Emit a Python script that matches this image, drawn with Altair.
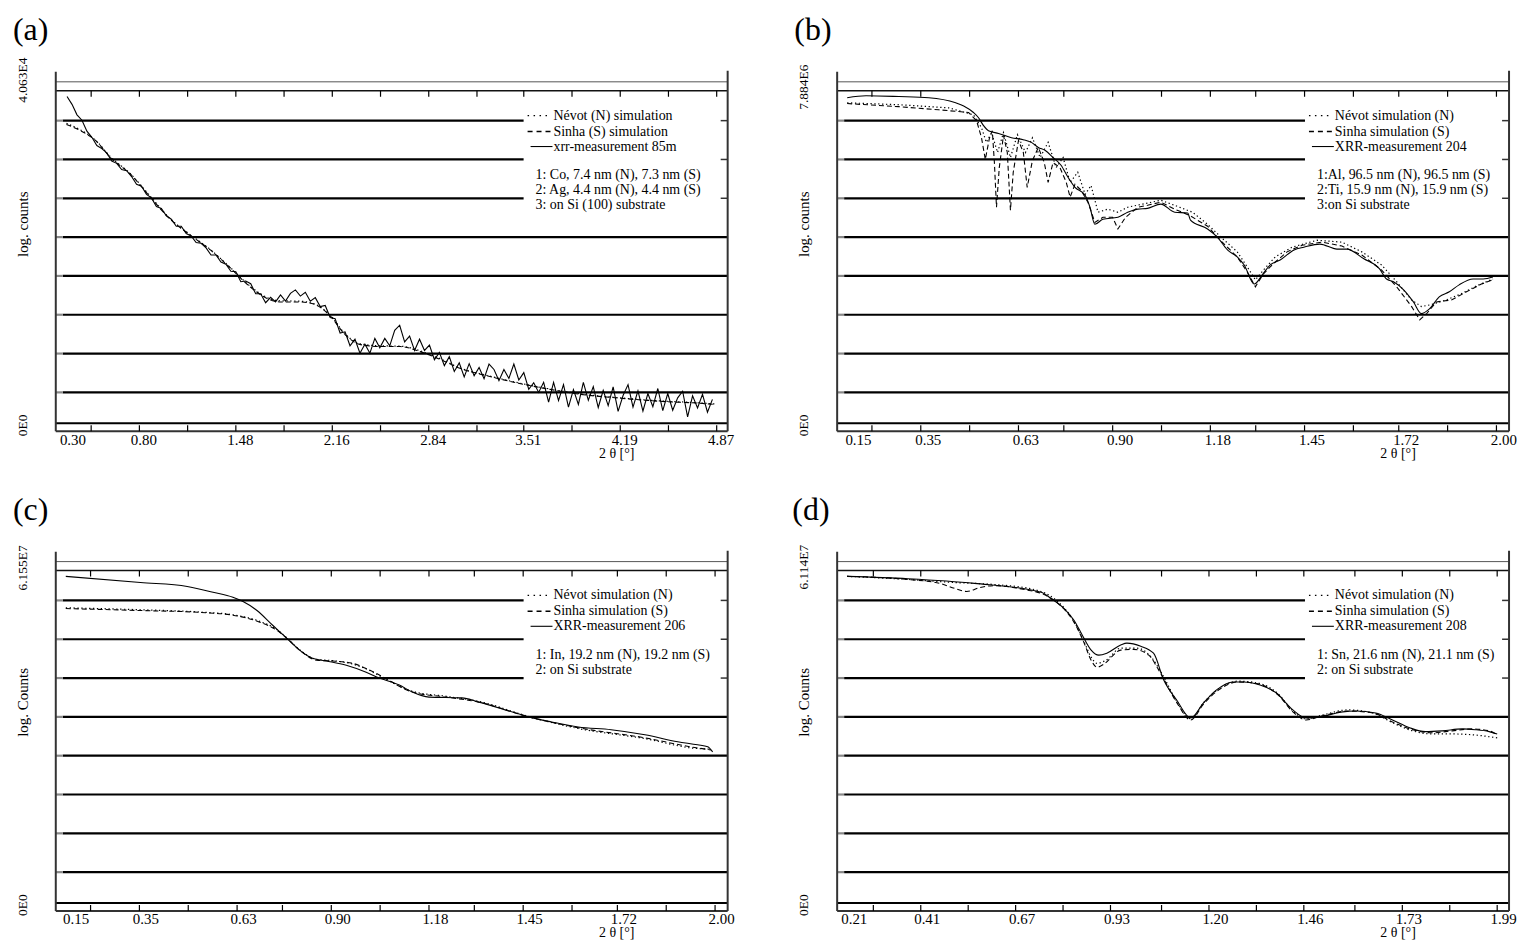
import altair as alt
import pandas as pd

FONT = "Liberation Serif"
PH = 361            # plot height (px)
UNIT = 39.0         # px per grid division
YMAX = PH / UNIT

# ---------------- panel (a) ----------------
a_labels = [0.30, 0.80, 1.48, 2.16, 2.84, 3.51, 4.19, 4.87]
a_ticks = [0.46, 0.80, 1.14, 1.48, 1.82, 2.16, 2.50, 2.84, 3.18, 3.51, 3.85, 4.19, 4.53, 4.87]
a_meas_x = [
    0.290, 0.325, 0.360, 0.395, 0.430, 0.465, 0.500, 0.535, 0.570, 0.605,
    0.640, 0.675, 0.710, 0.745, 0.780, 0.815, 0.850, 0.885, 0.920, 0.955,
    0.990, 1.025, 1.060, 1.095, 1.130, 1.165, 1.200, 1.235, 1.270, 1.305,
    1.340, 1.375, 1.410, 1.445, 1.480, 1.515, 1.550, 1.585, 1.620, 1.655,
    1.690, 1.725, 1.760, 1.795, 1.830, 1.865, 1.900, 1.935, 1.970, 2.005,
    2.040, 2.075, 2.110, 2.145, 2.180, 2.215, 2.250, 2.285, 2.320, 2.355,
    2.390, 2.425, 2.460, 2.495, 2.530, 2.565, 2.600, 2.635, 2.670, 2.705,
    2.740, 2.775, 2.810, 2.845, 2.880, 2.915, 2.950, 2.985, 3.020, 3.055,
    3.090, 3.125, 3.160, 3.195, 3.230, 3.265, 3.300, 3.335, 3.370, 3.405,
    3.440, 3.475, 3.510, 3.545, 3.580, 3.615, 3.650, 3.685, 3.720, 3.755,
    3.790, 3.825, 3.860, 3.895, 3.930, 3.965, 4.000, 4.035, 4.070, 4.105,
    4.140, 4.175, 4.210, 4.245, 4.280, 4.315, 4.350, 4.385, 4.420, 4.455,
    4.490, 4.525, 4.560, 4.595, 4.630, 4.665, 4.700, 4.735, 4.770, 4.805,
    4.840]
a_meas_y = [
    8.62, 8.42, 8.15, 8.01, 7.73, 7.57, 7.36, 7.28, 7.17, 6.96,
    6.90, 6.74, 6.71, 6.56, 6.36, 6.31, 6.10, 6.01, 5.79, 5.74,
    5.55, 5.46, 5.28, 5.28, 5.09, 5.03, 4.86, 4.84, 4.72, 4.54,
    4.54, 4.36, 4.30, 4.12, 4.11, 3.85, 3.87, 3.80, 3.54, 3.54,
    3.31, 3.45, 3.33, 3.51, 3.35, 3.55, 3.64, 3.48, 3.58, 3.35,
    3.44, 3.21, 3.24, 2.93, 2.90, 2.53, 2.56, 2.20, 2.37, 2.01,
    2.24, 2.01, 2.39, 2.15, 2.39, 2.20, 2.60, 2.73, 2.30, 2.45,
    2.08, 2.37, 2.08, 2.22, 1.84, 2.03, 1.69, 1.92, 1.54, 1.76,
    1.40, 1.74, 1.43, 1.64, 1.35, 1.73, 1.59, 1.30, 1.59, 1.36,
    1.73, 1.32, 1.51, 1.08, 1.25, 1.00, 1.26, 0.75, 1.26, 0.79,
    1.20, 0.62, 1.07, 0.69, 1.26, 0.80, 1.15, 0.61, 1.05, 0.66,
    1.14, 0.51, 0.92, 1.20, 0.62, 1.04, 0.52, 0.97, 0.63, 1.10,
    0.53, 0.97, 0.54, 0.86, 1.03, 0.37, 0.91, 0.60, 0.95, 0.49,
    0.82]
a_sim_x = [0.286, 0.385, 0.49, 0.596, 0.737, 0.877, 1.018, 1.159, 1.30, 1.44, 1.58, 1.69,
           1.79, 1.93, 2.04, 2.15, 2.25, 2.36, 2.50, 2.64, 2.78, 2.92, 3.06, 3.27, 3.48,
           3.69, 3.91, 4.19, 4.47, 4.75, 4.86]
a_sinha_y = [7.90, 7.74, 7.49, 7.05, 6.62, 6.03, 5.46, 5.05, 4.67, 4.21, 3.72, 3.44, 3.33,
             3.33, 3.26, 2.95, 2.49, 2.23, 2.18, 2.18, 2.05, 1.85, 1.62, 1.41, 1.23, 1.08,
             0.95, 0.85, 0.77, 0.72, 0.69]
a_nevot_y = [7.93, 7.76, 7.50, 7.07, 6.63, 6.05, 5.47, 5.06, 4.68, 4.22, 3.74, 3.46, 3.36,
             3.35, 3.27, 2.97, 2.51, 2.25, 2.20, 2.19, 2.07, 1.87, 1.63, 1.42, 1.24, 1.09,
             0.96, 0.86, 0.78, 0.73, 0.70]

# ---------------- panel (b) ----------------
b_labels = [0.15, 0.35, 0.63, 0.90, 1.18, 1.45, 1.72, 2.00]
b_ticks = [0.21, 0.35, 0.49, 0.63, 0.76, 0.90, 1.04, 1.18, 1.31, 1.45, 1.59, 1.72, 1.86, 2.00]
b_meas_x = [0.139, 0.193, 0.287, 0.373, 0.45, 0.473, 0.501, 0.515, 0.53, 0.544, 0.573, 0.61,
            0.644, 0.667, 0.687, 0.707, 0.729, 0.752, 0.772, 0.792, 0.821, 0.835, 0.849,
            0.872, 0.915, 0.943, 0.972, 1.0, 1.038, 1.078, 1.115, 1.123, 1.172, 1.20, 1.229,
            1.257, 1.277, 1.306, 1.329, 1.351, 1.38, 1.42, 1.448, 1.494, 1.543, 1.571, 1.62,
            1.665, 1.685, 1.705, 1.734, 1.762, 1.785, 1.808, 1.836, 1.865, 1.893, 1.933,
            1.962, 1.99]
b_meas_y = [8.59, 8.64, 8.62, 8.59, 8.46, 8.38, 8.21, 8.08, 7.87, 7.74, 7.67, 7.56, 7.51,
            7.44, 7.31, 7.23, 7.05, 6.85, 6.54, 6.28, 6.08, 5.77, 5.33, 5.46, 5.51, 5.64,
            5.72, 5.74, 5.85, 5.64, 5.62, 5.44, 5.21, 5.0, 4.67, 4.49, 4.28, 3.79, 4.03, 4.28,
            4.41, 4.67, 4.74, 4.82, 4.69, 4.69, 4.44, 4.18, 3.92, 3.85, 3.64, 3.33, 3.03,
            3.15, 3.46, 3.59, 3.77, 3.92, 3.92, 3.97]
b_sinha_x = [0.139, 0.287, 0.401, 0.487, 0.51, 0.524, 0.535, 0.547, 0.555, 0.561, 0.567,
             0.575, 0.587, 0.598, 0.607, 0.615, 0.63, 0.644, 0.655, 0.67, 0.687, 0.704,
             0.715, 0.729, 0.749, 0.767, 0.778, 0.792, 0.809, 0.829, 0.849, 0.872, 0.9,
             0.915, 0.937, 0.972, 1.0, 1.038, 1.078, 1.12, 1.172, 1.214, 1.257, 1.286,
             1.309, 1.332, 1.36, 1.40, 1.443, 1.5, 1.557, 1.614, 1.671, 1.714, 1.757, 1.78,
             1.8, 1.828, 1.871, 1.914, 1.957, 1.99]
b_sinha_y = [8.44, 8.36, 8.28, 8.21, 8.0, 7.56, 7.0, 7.56, 7.74, 6.92, 5.77, 6.79, 7.62,
             7.18, 5.69, 6.67, 7.49, 7.18, 6.28, 6.97, 7.31, 6.92, 6.41, 6.92, 6.79, 6.41,
             6.03, 6.36, 6.21, 5.90, 5.38, 5.51, 5.51, 5.21, 5.51, 5.77, 5.82, 5.90, 5.72,
             5.56, 5.28, 4.87, 4.49, 4.10, 3.72, 4.05, 4.31, 4.62, 4.79, 4.87, 4.77, 4.54,
             4.15, 3.72, 3.21, 2.87, 3.03, 3.33, 3.38, 3.59, 3.79, 3.90]
b_nevot_x = [0.139, 0.287, 0.43, 0.501, 0.524, 0.538, 0.553, 0.57, 0.587, 0.607, 0.627,
             0.65, 0.67, 0.692, 0.715, 0.738, 0.758, 0.778, 0.8, 0.821, 0.838, 0.858, 0.886,
             0.915, 0.943, 0.986, 1.038, 1.086, 1.129, 1.172, 1.214, 1.257, 1.286, 1.309,
             1.332, 1.366, 1.414, 1.486, 1.557, 1.614, 1.671, 1.714, 1.757, 1.785, 1.813,
             1.856, 1.899, 1.942, 1.99]
b_nevot_y = [8.46, 8.41, 8.33, 8.15, 7.82, 7.44, 7.69, 7.18, 7.69, 7.05, 7.64, 7.18, 7.56,
             7.05, 7.44, 6.79, 7.05, 6.41, 6.67, 6.10, 6.33, 5.64, 5.72, 5.64, 5.77, 5.85,
             5.95, 5.79, 5.64, 5.33, 4.97, 4.62, 4.23, 3.90, 4.15, 4.49, 4.74, 4.92, 4.87,
             4.62, 4.28, 3.85, 3.38, 3.21, 3.26, 3.38, 3.54, 3.74, 3.92]

# ---------------- panel (c) ----------------
c_labels = [0.15, 0.35, 0.63, 0.90, 1.18, 1.45, 1.72, 2.00]
c_ticks = [0.21, 0.35, 0.49, 0.63, 0.76, 0.90, 1.04, 1.18, 1.31, 1.45, 1.59, 1.72, 1.86, 2.00]
c_meas_x = [0.139, 0.353, 0.487, 0.561, 0.618, 0.647, 0.687, 0.732, 0.772, 0.809, 0.846,
            0.886, 0.943, 1.0, 1.038, 1.095, 1.132, 1.18, 1.274, 1.323, 1.417, 1.466, 1.531,
            1.608, 1.702, 1.799, 1.893, 1.95, 1.979, 1.993]
c_meas_y = [8.62, 8.46, 8.36, 8.21, 8.08, 7.97, 7.74, 7.36, 7.03, 6.72, 6.51, 6.44, 6.33,
            6.15, 6.0, 5.82, 5.64, 5.51, 5.49, 5.38, 5.13, 5.0, 4.87, 4.74, 4.67, 4.54,
            4.36, 4.28, 4.23, 4.10]
c_sim_x = [0.139, 0.353, 0.524, 0.618, 0.695, 0.744, 0.772, 0.809, 0.858, 0.903, 0.961,
           1.009, 1.038, 1.132, 1.229, 1.323, 1.466, 1.608, 1.799, 1.942, 1.988]
c_sinha_y = [7.79, 7.74, 7.69, 7.62, 7.44, 7.23, 7.03, 6.72, 6.46, 6.44, 6.38, 6.21, 6.08,
             5.64, 5.51, 5.38, 5.0, 4.72, 4.46, 4.21, 4.15]
c_nevot_y = [7.81, 7.76, 7.70, 7.63, 7.46, 7.25, 7.04, 6.73, 6.48, 6.45, 6.36, 6.20, 6.06,
             5.66, 5.53, 5.40, 5.01, 4.70, 4.44, 4.19, 4.17]

# ---------------- panel (d) ----------------
d_labels = [0.21, 0.41, 0.67, 0.93, 1.20, 1.46, 1.73, 1.99]
d_ticks = [0.28, 0.41, 0.54, 0.67, 0.80, 0.93, 1.07, 1.20, 1.33, 1.46, 1.60, 1.73, 1.86, 1.99]
d_meas_x = [0.208, 0.375, 0.557, 0.74, 0.767, 0.803, 0.83, 0.857, 0.877, 0.898, 0.92, 0.958,
            0.975, 1.013, 1.048, 1.076, 1.111, 1.15, 1.185, 1.22, 1.267, 1.294, 1.34, 1.384,
            1.43, 1.466, 1.504, 1.567, 1.602, 1.657, 1.703, 1.75, 1.793, 1.84, 1.894, 1.93,
            1.968, 1.99]
d_meas_y = [8.62, 8.56, 8.44, 8.21, 8.05, 7.79, 7.49, 7.03, 6.72, 6.59, 6.64, 6.85, 6.90,
            6.82, 6.64, 5.95, 5.44, 4.97, 5.36, 5.69, 5.90, 5.90, 5.82, 5.62, 5.18, 4.97,
            5.0, 5.13, 5.15, 5.10, 4.92, 4.72, 4.62, 4.64, 4.69, 4.67, 4.62, 4.56]
d_sinha_x = [0.208, 0.375, 0.462, 0.503, 0.536, 0.571, 0.612, 0.694, 0.748, 0.789, 0.83,
             0.857, 0.877, 0.893, 0.912, 0.958, 0.993, 1.035, 1.062, 1.111, 1.15, 1.185,
             1.226, 1.28, 1.335, 1.39, 1.43, 1.466, 1.512, 1.58, 1.649, 1.703, 1.758, 1.812,
             1.867, 1.921, 1.968, 1.99]
d_sinha_y = [8.62, 8.54, 8.44, 8.31, 8.23, 8.33, 8.38, 8.28, 8.15, 7.90, 7.44, 6.92, 6.46,
             6.28, 6.36, 6.72, 6.74, 6.59, 6.21, 5.38, 4.92, 5.33, 5.69, 5.90, 5.85, 5.56,
             5.13, 4.92, 5.03, 5.15, 5.10, 4.87, 4.67, 4.59, 4.64, 4.69, 4.64, 4.54]
d_nevot_x = [0.208, 0.375, 0.503, 0.612, 0.721, 0.775, 0.83, 0.857, 0.877, 0.893, 0.918,
             0.958, 1.002, 1.04, 1.07, 1.111, 1.15, 1.185, 1.226, 1.28, 1.335, 1.39, 1.43,
             1.466, 1.512, 1.58, 1.649, 1.703, 1.758, 1.812, 1.867, 1.921, 1.99]
d_nevot_y = [8.62, 8.54, 8.46, 8.41, 8.28, 8.05, 7.46, 6.95, 6.54, 6.38, 6.46, 6.77, 6.77,
             6.56, 6.13, 5.41, 4.95, 5.36, 5.72, 5.92, 5.87, 5.59, 5.15, 4.95, 5.05, 5.18,
             5.10, 4.85, 4.64, 4.56, 4.56, 4.54, 4.46]

# ---------------- texts ----------------
a_legend = ["Névot (N) simulation", "Sinha (S) simulation", "xrr-measurement 85m"]
a_info = ["1: Co, 7.4 nm (N), 7.3 nm (S)", "2: Ag, 4.4 nm (N), 4.4 nm (S)", "3: on Si (100) substrate"]
b_legend = ["Névot simulation (N)", "Sinha simulation (S)", "XRR-measurement 204"]
b_info = ["1:Al, 96.5 nm (N), 96.5 nm (S)", "2:Ti, 15.9 nm (N), 15.9 nm (S)", "3:on Si substrate"]
c_legend = ["Névot simulation (N)", "Sinha simulation (S)", "XRR-measurement 206"]
c_info = ["1: In, 19.2 nm (N),  19.2 nm (S)", "2: on Si substrate"]
d_legend = ["Névot simulation (N)", "Sinha simulation (S)", "XRR-measurement 208"]
d_info = ["1: Sn, 21.6 nm (N), 21.1 nm (S)", "2: on Si substrate"]

GRID_FULL = [1, 2, 3, 4, 5]
GRID_SHORT = [6, 7, 8]
GRID_ALL = [1, 2, 3, 4, 5, 6, 7, 8]
TOP_THIN = [9.0]
TOP_TICKLINE = [8.77]
BOTTOM_LINE = [0.205]


def dummy():
    return alt.Chart(pd.DataFrame({"k": [0]}))


def make_panel(cfg):
    W = cfg["width"]
    xsc = alt.Scale(domain=cfg["xdom"], nice=False, zero=False)
    ysc = alt.Scale(domain=[0, YMAX], nice=False, zero=False)
    xaxis = alt.Axis(values=cfg["labels"], format=".2f", domain=False, ticks=False, tickSize=0,
                     grid=False, labelFont=FONT, labelFontSize=15, labelColor="black",
                     labelPadding=1, labelOffset=cfg["loff"], labelFlush=False,
                     labelOverlap=False, title="2 θ  [°]", titleFont=FONT, titleFontSize=14,
                     titleFontWeight="normal", titleColor="black", titleX=563, titleY=22,
                     titleBaseline="middle", titleAlign="center")
    X = alt.X("x:Q", scale=xsc, axis=xaxis)
    Y = alt.Y("y:Q", scale=ysc, axis=None)
    L = []

    def hl(vals, x1, x2, color, width):
        return alt.Chart(pd.DataFrame({"y": vals})).mark_rule(
            color=color, strokeWidth=width).encode(y=Y, x=alt.value(x1), x2=alt.value(x2))

    # frame
    L.append(hl(TOP_THIN, 0, W, "#555555", 1))
    L.append(hl(TOP_TICKLINE, 0, W, "#111111", 1.5))
    L.append(hl(GRID_FULL, 7, W, "black", 2.2))
    L.append(hl(GRID_SHORT, 7, 470, "black", 2.2))
    L.append(hl(GRID_ALL, 0, 7, "#888888", 2.2))
    L.append(hl(GRID_SHORT, W - 7, W, "#333333", 1.5))
    L.append(hl(BOTTOM_LINE, 0, W, "black", 2.2))
    L.append(hl([0.0], 0, W, "#333333", 2))
    L.append(dummy().mark_rule(color="#333333", strokeWidth=2).encode(
        x=alt.value(0), y=alt.value(0), y2=alt.value(PH)))
    L.append(dummy().mark_rule(color="#333333", strokeWidth=2).encode(
        x=alt.value(W), y=alt.value(-1), y2=alt.value(PH)))
    tdf = pd.DataFrame({"x": cfg["ticks"]})
    L.append(alt.Chart(tdf).mark_rule(color="black", strokeWidth=1.2).encode(
        x=X, y=alt.value(19), y2=alt.value(25)))
    L.append(alt.Chart(tdf).mark_rule(color="black", strokeWidth=1.2).encode(
        x=X, y=alt.value(PH - 6), y2=alt.value(PH)))

    # curves
    interp = cfg["interp"]
    L.append(alt.Chart(pd.DataFrame({"x": cfg["nx"], "y": cfg["ny"]})).mark_line(
        color="black", strokeWidth=1.2, strokeDash=[1.3, 2.6], interpolate=interp).encode(x=X, y=Y))
    L.append(alt.Chart(pd.DataFrame({"x": cfg["sx"], "y": cfg["sy"]})).mark_line(
        color="black", strokeWidth=1.1, strokeDash=[5, 3], interpolate=interp).encode(x=X, y=Y))
    L.append(alt.Chart(pd.DataFrame({"x": cfg["mx"], "y": cfg["my"]})).mark_line(
        color="black", strokeWidth=1.1, interpolate=cfg["minterp"]).encode(x=X, y=Y))

    # legend samples
    rows = [44, 60, 75]
    L.append(dummy().mark_rule(color="black", strokeWidth=1.3, strokeDash=[1.5, 4.5]).encode(
        x=alt.value(474), x2=alt.value(498), y=alt.value(rows[0])))
    L.append(dummy().mark_rule(color="black", strokeWidth=1.5, strokeDash=[5, 4]).encode(
        x=alt.value(474), x2=alt.value(499), y=alt.value(rows[1])))
    L.append(dummy().mark_rule(color="black", strokeWidth=1.1).encode(
        x=alt.value(477), x2=alt.value(499), y=alt.value(rows[2])))
    for t, ry in zip(cfg["legend"], rows):
        L.append(dummy().mark_text(text=t, x=500, y=ry, align="left", baseline="middle",
                                   font=FONT, fontSize=14, color="black"))
    for t, ry in zip(cfg["info"], [104, 119, 134]):
        L.append(dummy().mark_text(text=t, x=482, y=ry, align="left", baseline="middle",
                                   font=FONT, fontSize=14, color="black"))

    # y-side texts (rotated)
    for t, ry, fs in [(cfg["ytop"], cfg["ytop_y"], 13.5), (cfg["ylab"], 186, 15),
                      ("0E0", 366, 13.5)]:
        L.append(dummy().mark_text(text=t, x=-33, y=ry, angle=270, align="left",
                                   baseline="middle", font=FONT, fontSize=fs, color="black"))
    # panel letter
    L.append(dummy().mark_text(text=cfg["letter"], x=cfg["letter_x"], y=-32, align="left",
                               baseline="alphabetic", font=FONT, fontSize=32, color="black"))
    if cfg.get("anchor"):
        L.append(dummy().mark_rule(color="white", strokeWidth=1).encode(
            x=alt.value(-45), x2=alt.value(-44), y=alt.value(-59)))
    return alt.layer(*L).properties(width=W, height=PH)


pa = make_panel(dict(width=675, xdom=[0.2105, 4.9474], labels=a_labels, ticks=a_ticks, loff=4,
                     mx=a_meas_x, my=a_meas_y, sx=a_sim_x, sy=a_sinha_y, nx=a_sim_x, ny=a_nevot_y,
                     interp="monotone", minterp="linear", legend=a_legend, info=a_info,
                     ytop="4.063E4", ytop_y=31, ylab="log. counts", letter="(a)", letter_x=-43,
                     anchor=True))
pb = make_panel(dict(width=675, xdom=[0.1103, 2.0361], labels=b_labels, ticks=b_ticks, loff=7,
                     mx=b_meas_x, my=b_meas_y, sx=b_sinha_x, sy=b_sinha_y, nx=b_nevot_x,
                     ny=b_nevot_y, interp="linear", minterp="monotone", legend=b_legend,
                     info=b_info, ytop="7.884E6", ytop_y=38, ylab="log. counts", letter="(b)",
                     letter_x=-43))
pc = make_panel(dict(width=675, xdom=[0.1103, 2.0361], labels=c_labels, ticks=c_ticks, loff=6,
                     mx=c_meas_x, my=c_meas_y, sx=c_sim_x, sy=c_sinha_y, nx=c_sim_x, ny=c_nevot_y,
                     interp="monotone", minterp="monotone", legend=c_legend, info=c_info,
                     ytop="6.155E7", ytop_y=39, ylab="log. Counts", letter="(c)", letter_x=-43))
pdd = make_panel(dict(width=675, xdom=[0.1808, 2.0225], labels=d_labels, ticks=d_ticks, loff=6,
                      mx=d_meas_x, my=d_meas_y, sx=d_sinha_x, sy=d_sinha_y, nx=d_nevot_x,
                      ny=d_nevot_y, interp="monotone", minterp="monotone", legend=d_legend,
                      info=d_info, ytop="6.114E7", ytop_y=38, ylab="log. Counts", letter="(d)",
                      letter_x=-45))

chart = alt.concat(pa, pb, pc, pdd, columns=2, spacing={"row": 121, "column": 110},
                   bounds="flush").properties(
    padding={"left": 2, "top": 2, "right": 0, "bottom": 0}
).configure_view(stroke=None)

chart.save("out.html", embed_options={"renderer": "svg", "actions": False})
